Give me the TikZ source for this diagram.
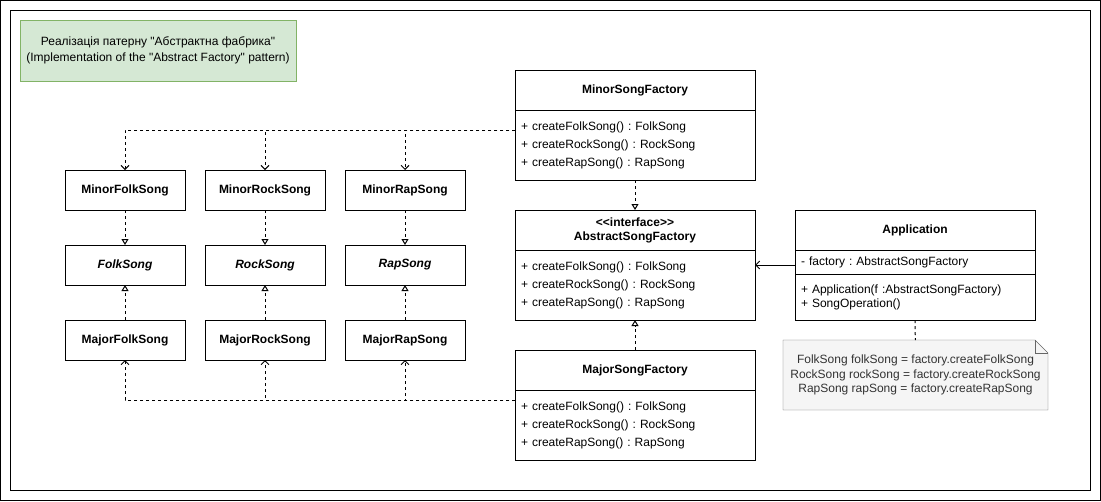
\documentclass[tikz,border=0pt]{standalone}
\usepackage{fontspec}
\setmainfont{Liberation Sans}[Ligatures=TeXOff]
\usetikzlibrary{arrows.meta,positioning,backgrounds}
\frenchspacing

\newcommand{\umlfont}{\fontsize{12}{14}\selectfont}
\definecolor{titlefill}{RGB}{213,232,212}
\definecolor{titleline}{RGB}{130,179,102}
\definecolor{notefill}{RGB}{245,245,245}
\definecolor{noteline}{RGB}{102,102,102}
\definecolor{notetext}{RGB}{51,51,51}

\tikzset{
  songbox/.style={draw, minimum width=120, minimum height=40, inner sep=0, outer sep=0, font=\umlfont\bfseries},
  headbox/.style={draw, minimum width=240, minimum height=40, inner sep=0, outer sep=0, align=center, font=\umlfont\bfseries},
  bodybox/.style={draw, minimum width=240, minimum height=70, text width=228, inner xsep=6, inner ysep=0, outer sep=0, align=left, font=\fontsize{12}{18}\selectfont},
  dep/.style={dash pattern=on 3pt off 3pt, -{Straight Barb[length=4pt,width=8pt]}},
  real/.style={dash pattern=on 3pt off 3pt, -{Triangle[open,length=6pt,width=7pt]}},
  assoc/.style={-{Straight Barb[length=4pt,width=8pt]}},
}

\begin{document}
\begin{tikzpicture}[x=1pt, y=-1pt, line width=1pt]
    \useasboundingbox (0,0) rectangle (1101,501);

    % Frames
    \draw (0.5,0.5) rectangle (1100.5,500.5);
    \draw (10.5,10.5) rectangle (1090.5,490.5);

    % Title
    \node[draw=titleline, fill=titlefill, minimum width=276, minimum height=61, align=center, font=\fontsize{12}{16}\selectfont] (title) at (158,50.5) {Реалізація патерну "Абстрактна фабрика"\\(Implementation of the "Abstract Factory" pattern)};

    % Minor products
    \node[songbox] (minFolk) at (125,190) {MinorFolkSong};
    \node[songbox] (minRock) at (265,190) {MinorRockSong};
    \node[songbox] (minRap) at (405,190) {MinorRapSong};

    % Abstract products
    \node[songbox, font=\umlfont\bfseries\itshape] (folk) at (125,265) {FolkSong};
    \node[songbox, font=\umlfont\bfseries\itshape] (rock) at (265,265) {RockSong};
    \node[songbox, font=\umlfont\bfseries\itshape] (rap) at (405,265) {RapSong};

    % Major products
    \node[songbox] (majFolk) at (125,340) {MajorFolkSong};
    \node[songbox] (majRock) at (265,340) {MajorRockSong};
    \node[songbox] (majRap) at (405,340) {MajorRapSong};

    % Factories
    \node[headbox] (minH) at (635,90) {MinorSongFactory};
    \node[bodybox, below=0pt of minH] (minB) {+ createFolkSong() : FolkSong\\+ createRockSong() : RockSong\\+ createRapSong() : RapSong};

    \node[headbox] (absH) at (635,230) {<\kern0pt<interface>\kern0pt>\\AbstractSongFactory};
    \node[bodybox, below=0pt of absH] (absB) {+ createFolkSong() : FolkSong\\+ createRockSong() : RockSong\\+ createRapSong() : RapSong};

    \node[headbox] (majH) at (635,370) {MajorSongFactory};
    \node[bodybox, below=0pt of majH] (majB) {+ createFolkSong() : FolkSong\\+ createRockSong() : RockSong\\+ createRapSong() : RapSong};

    % Client
    \node[headbox] (appH) at (915,230) {Application};
    \node[bodybox, minimum height=24, below=0pt of appH, font=\umlfont] (appA) {- factory : AbstractSongFactory};
    \node[bodybox, minimum height=46, below=0pt of appA, font=\umlfont] (appM) {+ Application(f :AbstractSongFactory)\\+ SongOperation()};

    % Note
    \node[minimum width=265, minimum height=70, outer sep=0, align=center, text=notetext, font=\fontsize{12}{14.5}\selectfont] (note) at (915.5,375) {FolkSong folkSong = factory.createFolkSong\\RockSong rockSong = factory.createRockSong\\RapSong rapSong = factory.createRapSong};
    \begin{scope}[on background layer]
        \draw[noteline, fill=notefill] (note.north west) -- ([xshift=-13]note.north east) -- ([yshift=-13]note.north east) -- (note.south east) -- (note.south west) -- cycle;
        \draw[noteline] ([xshift=-13]note.north east) -- ([xshift=-13,yshift=-13]note.north east) -- ([yshift=-13]note.north east);
    \end{scope}

    % Minor factory creates
    \draw[dep] ([yshift=15]minB.west) -| (minFolk.north);
    \draw[dep] ([yshift=15]minB.west) -| (minRock.north);
    \draw[dep] ([yshift=15]minB.west) -| (minRap.north);

    % Major factory creates
    \draw[dep] ([yshift=25]majB.west) -| (majFolk.south);
    \draw[dep] ([yshift=25]majB.west) -| (majRock.south);
    \draw[dep] ([yshift=25]majB.west) -| (majRap.south);

    % Realizations
    \draw[real] (minFolk) -- (folk);
    \draw[real] (minRock) -- (rock);
    \draw[real] (minRap) -- (rap);
    \draw[real] (majFolk) -- (folk);
    \draw[real] (majRock) -- (rock);
    \draw[real] (majRap) -- (rap);
    \draw[real] (minB) -- (absH);
    \draw[real] (majH) -- (absB);

    % Client uses factory
    \draw[assoc] ([yshift=-3]appA.west) -- ([yshift=-3]appA.west -| absB.east);
    \draw[dash pattern=on 3pt off 3pt] (appM) -- (note);
\end{tikzpicture}
\end{document}
